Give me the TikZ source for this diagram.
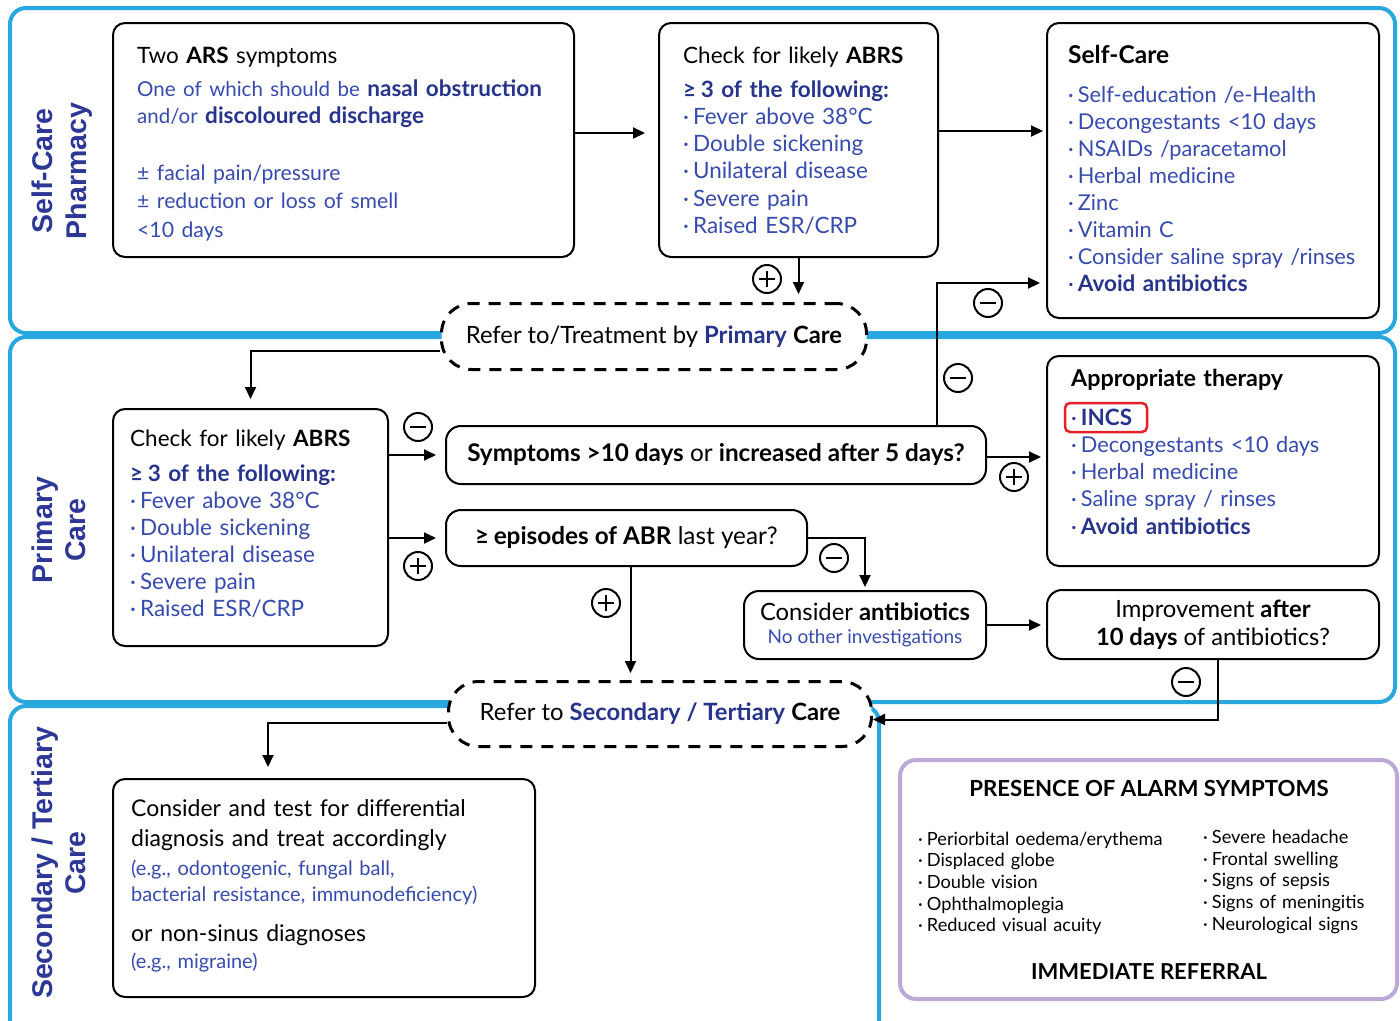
\documentclass[tikz,border=0pt]{standalone}
\usepackage{fontspec}
\setmainfont{Lato}
\newfontfamily\zonefont{Liberation Sans}
\usetikzlibrary{arrows.meta,calc}
\definecolor{zoneblue}{RGB}{41,168,224}
\definecolor{tblue}{RGB}{55,75,175}
\definecolor{dblue}{RGB}{38,52,140}
\definecolor{lblue}{RGB}{45,55,150}
\definecolor{lav}{RGB}{188,170,214}
\definecolor{incsred}{RGB}{230,32,40}
\newcommand\tb{\color{tblue}}
\newcommand\db[1]{{\color{dblue}\bfseries #1}}
\newcommand\bul{\textperiodcentered\hspace{4pt}}
\newcommand\gtsym{≥\hspace{4.5pt}}
\begin{document}
\begin{tikzpicture}[x=1pt,y=-1pt,
  zone/.style={draw=zoneblue,line width=4pt,rounded corners=16pt},
  zonelabel/.style={rotate=90,align=center,text=lblue,inner sep=0pt,font=\zonefont\bfseries\fontsize{28.5}{33.5}\selectfont},
  box/.style={draw=black,line width=2pt,rounded corners=12pt,inner sep=0pt,anchor=north west},
  txt/.style={anchor=base west,inner sep=0pt,align=left,text width=#1},
  refer/.style={draw=black,fill=white,line width=3pt,dash pattern=on 12pt off 9pt,rounded corners=30pt,inner sep=0pt,anchor=north west,font=\fontsize{23.8}{27}\selectfont},
  arr/.style={line width=2pt,-{Triangle[length=12pt,width=11pt]}},
  sign/.style={circle,draw,line width=2pt,minimum size=28pt,inner sep=0pt},
  plus/.style={sign,path picture={\draw[line width=2.6pt]
     ([xshift=-8pt]path picture bounding box.center) -- ([xshift=8pt]path picture bounding box.center)
     ([yshift=-8pt]path picture bounding box.center) -- ([yshift=8pt]path picture bounding box.center);}},
  minus/.style={sign,path picture={\draw[line width=2.8pt]
     ([xshift=-8pt]path picture bounding box.center) -- ([xshift=8pt]path picture bounding box.center);}},
  body/.style={font=\fontsize{22.5}{27.3}\selectfont},
  big/.style={font=\fontsize{24.3}{28}\selectfont},
]
\clip (0,0) rectangle (1400,1020);
\fill[white] (0,0) rectangle (1400,1020);

% zones
\draw[zone] (10,8) rectangle (1395,333);
\draw[zone] (10,337) rectangle (1395,702);
\draw[zone] (10,706) rectangle (879,1040);

% zone labels
\node[zonelabel] (zl1) at (62,171) {Self-Care\\Pharmacy};
\node[zonelabel] (zl2) at (59,530) {Primary\\Care};
\node[zonelabel] (zl3) at (59,863) {Secondary / Tertiary\\Care};

% boxes
\node[box,minimum width=461pt,minimum height=234pt] (A) at (112,22) {};
\node[box,minimum width=279pt,minimum height=234pt] (B) at (658,22) {};
\node[box,minimum width=332pt,minimum height=295pt] (C) at (1046,22) {};
\node[box,minimum width=275pt,minimum height=237pt] (E) at (112,408) {};
\node[box,rounded corners=15pt,minimum width=540pt,minimum height=58pt,big] (F) at (445,425)
  {\textbf{Symptoms >10 days} or \textbf{increased after 5 days?}};
\node[box,rounded corners=15pt,minimum width=361pt,minimum height=56pt,big] (G) at (445,509)
  {\textbf{\gtsym episodes of ABR} last year?};
\node[box,minimum width=332pt,minimum height=210pt] (H) at (1046,355) {};
\node[box,rounded corners=15pt,minimum width=242pt,minimum height=68pt,align=center,font=\fontsize{23.8}{27.3}\selectfont] (I) at (743,590)
  {Consider \textbf{antibiotics}\\[-5pt]{\tb\fontsize{19}{22}\selectfont No other investigations}};
\node[box,rounded corners=15pt,minimum width=332pt,minimum height=69pt,align=center,font=\fontsize{23.8}{28.3}\selectfont] (J) at (1046,589)
  {Improvement \textbf{after}\\\textbf{10 days} of antibiotics?};
\node[box,minimum width=422pt,minimum height=218pt] (K) at (112,778) {};
\node[refer,minimum width=425pt,minimum height=66pt] (D1) at (440,302)
  {Refer to/Treatment by \db{Primary} \textbf{Care}};
\node[refer,minimum width=423pt,minimum height=65pt] (D2) at (447,680)
  {Refer to \db{Secondary / Tertiary} \textbf{Care}};
\node[draw=lav,line width=4pt,rounded corners=16pt,anchor=north west,minimum width=497pt,minimum height=239pt,inner sep=0pt] (L) at (898,758) {};

% texts in boxes
\node[txt=430pt,font=\fontsize{22.5}{28.5}\selectfont] (At) at (137,63)
 {Two \textbf{ARS} symptoms\\[4.5pt]
  {\tb\fontsize{20.5}{28.5}\selectfont One of which should be \db{\fontsize{22.5}{28.5}\selectfont nasal obstruction}}\\[-1.5pt]
  {\tb\fontsize{20.5}{28.5}\selectfont and/or \db{\fontsize{22.5}{28.5}\selectfont discoloured discharge}}\\[28.5pt]
  {\tb\fontsize{21.2}{28.5}\selectfont ± facial pain/pressure}\\
  {\tb\fontsize{21.2}{28.5}\selectfont ± reduction or loss of smell}\\
  {\tb\fontsize{21.2}{28.5}\selectfont <10 days}};
\node[txt=250pt,body] (Bt) at (683,63)
 {Check for likely \textbf{ABRS}\\[6.7pt]
  \db{\gtsym 3 of the following:}\\
  {\tb\bul Fever above 38°C}\\
  {\tb\bul Double sickening}\\
  {\tb\bul Unilateral disease}\\
  {\tb\bul Severe pain}\\
  {\tb\bul Raised ESR/CRP}};
\node[txt=305pt,font=\fontsize{21.8}{27.1}\selectfont] (Ct) at (1068,63)
 {{\fontsize{24.5}{27.1}\selectfont\bfseries Self-Care}\\[11.9pt]
  {\tb\bul Self-education /e-Health}\\
  {\tb\bul Decongestants <10 days}\\
  {\tb\bul NSAIDs /paracetamol}\\
  {\tb\bul Herbal medicine}\\
  {\tb\bul Zinc}\\
  {\tb\bul Vitamin C}\\
  {\tb\bul Consider saline spray /rinses}\\
  {\color{dblue}\bul\bfseries\fontsize{22.5}{27.1}\selectfont Avoid antibiotics}};
\node[txt=250pt,font=\fontsize{22.5}{27}\selectfont] (Et) at (130,446.7)
 {Check for likely \textbf{ABRS}\\[8pt]
  \db{\gtsym 3 of the following:}\\
  {\tb\bul Fever above 38°C}\\
  {\tb\bul Double sickening}\\
  {\tb\bul Unilateral disease}\\
  {\tb\bul Severe pain}\\
  {\tb\bul Raised ESR/CRP}};
\node[txt=300pt,font=\fontsize{21.8}{27.3}\selectfont] (Ht) at (1071,386.7)
 {{\fontsize{23.3}{27.3}\selectfont\bfseries Appropriate therapy}\\[11pt]
  {\color{dblue}\bul\bfseries\fontsize{22.5}{27.3}\selectfont INCS}\\
  {\tb\bul Decongestants <10 days}\\
  {\tb\bul Herbal medicine}\\
  {\tb\bul Saline spray / rinses}\\
  {\color{dblue}\bul\bfseries\fontsize{22.5}{27.3}\selectfont Avoid antibiotics}};
\node[draw=incsred,line width=2.5pt,rounded corners=5pt,minimum width=82pt,minimum height=29pt,inner sep=0pt] (incs) at (1106,417.5) {};

\node[txt=400pt,font=\fontsize{23}{29.3}\selectfont] (K1) at (131,816.7)
 {Consider and test for differential\\diagnosis and treat accordingly};
\node[txt=400pt,font=\fontsize{20}{26.7}\selectfont,text=tblue] (K2) at (131,875)
 {(e.g., odontogenic, fungal ball,\\bacterial resistance, immunodeficiency)};
\node[txt=400pt,font=\fontsize{23}{29}\selectfont] (K3) at (131,941.7) {or non-sinus diagnoses};
\node[txt=400pt,font=\fontsize{20}{26.7}\selectfont,text=tblue] (K4) at (131,968.3) {(e.g., migraine)};

% alarm box texts
\node[font=\bfseries\fontsize{22.2}{26}\selectfont,anchor=base,inner sep=0pt] (Lh) at (1149,796.7) {PRESENCE OF ALARM SYMPTOMS};
\node[txt=280pt,font=\fontsize{18.2}{21.7}\selectfont] (Ll) at (918,845)
 {\bul Periorbital oedema/erythema\\\bul Displaced globe\\\bul Double vision\\\bul Ophthalmoplegia\\\bul Reduced visual acuity};
\node[txt=190pt,font=\fontsize{18.2}{21.7}\selectfont] (Lr) at (1203,843.3)
 {\bul Severe headache\\\bul Frontal swelling\\\bul Signs of sepsis\\\bul Signs of meningitis\\\bul Neurological signs};
\node[font=\bfseries\fontsize{22}{26}\selectfont,anchor=base,inner sep=0pt] (Lf) at (1149,979.3) {IMMEDIATE REFERRAL};

% connector helper points
\coordinate (ab) at ($(A.east)+(0,-7)$);
\coordinate (bc) at ($(B.east)+(0,-9)$);
\coordinate (fh) at ($(F.east)+(0,2)$);
\coordinate (fup) at ($(F.north east)+(-50,0)$);
\coordinate (cin) at ($(C.west)+(0,112.5)$);
\coordinate (gd) at ($(G.south)+(4,0)$);
\coordinate (jd) at ($(J.south)+(5,0)$);
\coordinate (d2in) at ($(D2.east)+(0,5.5)$);
\coordinate (d1out) at ($(D1.west)+(0,14)$);
\coordinate (d2out) at ($(D2.west)+(0,8.5)$);
\coordinate (kin) at ($(K.north west)+(156,0)$);

% connectors
\draw[arr,shorten >=13pt] (ab) -- (ab -| B.west);
\draw[arr,shorten >=3pt] (bc) -- (bc -| C.west);
\draw[arr,shorten >=8pt] (B.south) -- (B.south |- D1.north);
\draw[arr,shorten >=9pt] (d1out) -| (E.north);
\draw[arr,shorten >=9pt] (E.east |- F.west) -- (F.west);
\draw[arr,shorten >=9pt] (E.east |- G.west) -- (G.west);
\draw[arr,shorten >=5pt] (fh) -- (fh -| H.west);
\draw[arr,shorten >=6pt] (fup) |- (cin);
\draw[arr,shorten >=3pt] (G.east) -| (I.north);
\draw[arr,shorten >=7pt] (gd) -- (gd |- D2.north);
\draw[arr,shorten >=5pt] (I.east) -- (I.east -| J.west);
\draw[arr] (jd) |- (d2in);
\draw[arr,shorten >=11pt] (d2out) -| (kin);

% signs
\node[plus] (s1) at (767,279) {};
\node[minus] (s2) at (988,303) {};
\node[minus] (s3) at (958,378) {};
\node[minus] (s4) at (418,427) {};
\node[plus] (s5) at (418,566) {};
\node[plus] (s6) at (1014,477) {};
\node[plus] (s7) at (606,603) {};
\node[minus] (s8) at (834,558) {};
\node[minus] (s9) at (1186,682) {};
\end{tikzpicture}
\end{document}
